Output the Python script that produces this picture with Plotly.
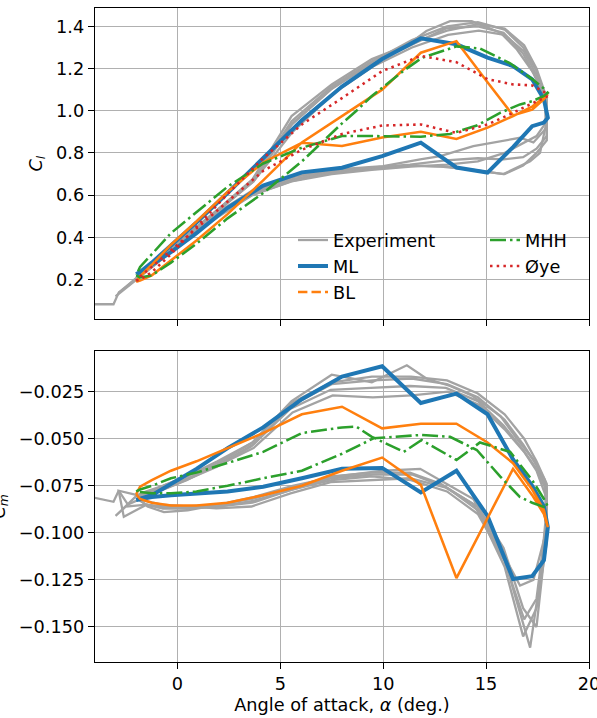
import plotly.graph_objects as go

# ---------------- data ----------------
# model sampling of alpha (deg), up-stroke then down-stroke
ALPHA_MODEL = [-2.0, -1.81, -1.24, -0.31, 0.93, 2.44, 4.17, 6.05, 8.0, 9.95, 11.83, 13.56, 15.07, 16.31, 17.24, 17.81, 18.0,
               17.81, 17.24, 16.31, 15.07, 13.56, 11.83, 9.95, 8.0, 6.05, 4.17, 2.44, 0.93, -0.31, -1.24, -1.81, -2.0]

ML_CL = [0.225, 0.235, 0.28, 0.36, 0.47, 0.61, 0.775, 0.955, 1.115, 1.245, 1.343, 1.315, 1.252, 1.212, 1.149, 1.054, 0.967,
         0.944, 0.927, 0.828, 0.707, 0.731, 0.849, 0.785, 0.73, 0.708, 0.645, 0.54, 0.42, 0.33, 0.27, 0.235, 0.225]
ML_CM = [-0.0825, -0.082, -0.080, -0.074, -0.066, -0.055, -0.044, -0.029, -0.017, -0.0115, -0.031, -0.026, -0.037, -0.061,
         -0.075, -0.086, -0.097, -0.1145, -0.123, -0.1245, -0.091, -0.067, -0.0785, -0.0655, -0.066, -0.071, -0.0755,
         -0.078, -0.079, -0.080, -0.081, -0.082, -0.0825]

BL_CL = [0.19, 0.195, 0.22, 0.29, 0.385, 0.51, 0.67, 0.85, 0.975, 1.10, 1.275, 1.33, 1.135, 0.978, 1.005, 1.055, 1.078,
         1.062, 1.02, 0.975, 0.92, 0.866, 0.90, 0.873, 0.833, 0.848, 0.755, 0.615, 0.475, 0.365, 0.27, 0.215, 0.19]
BL_CM = [-0.0795, -0.0755, -0.072, -0.067, -0.062, -0.055, -0.047, -0.037, -0.033, -0.0445, -0.042, -0.042, -0.052, -0.063,
         -0.077, -0.088, -0.097, -0.090, -0.080, -0.066, -0.092, -0.124, -0.0745, -0.060, -0.067, -0.075, -0.080, -0.084,
         -0.0855, -0.0855, -0.084, -0.082, -0.0795]

OYE_CL = [0.195, 0.20, 0.235, 0.32, 0.45, 0.605, 0.775, 0.935, 1.06, 1.188, 1.26, 1.23, 1.15, 1.125, 1.12, 1.09, 1.07,
          1.06, 1.035, 0.99, 0.935, 0.895, 0.935, 0.93, 0.89, 0.815, 0.715, 0.57, 0.44, 0.34, 0.26, 0.215, 0.195]

ALPHA_MHH = [-2.0, -1.81, -1.24, -0.31, 0.93, 2.44, 4.17, 6.05, 8.0, 8.7, 9.45, 11.0, 11.87, 13.56, 14.7, 16.17, 17.24, 17.81, 18.0,
             17.81, 17.24, 16.65, 15.68, 14.55, 13.25, 11.83, 9.53, 8.0, 6.05, 4.17, 2.44, 0.93, -0.31, -1.24, -1.81, -2.0]
MHH_CL = [0.22, 0.21, 0.22, 0.28, 0.37, 0.49, 0.61, 0.76, 0.94, 1.00, 1.07, 1.19, 1.25, 1.305, 1.295, 1.225, 1.15, 1.105, 1.085,
          1.07, 1.045, 1.03, 0.99, 0.93, 0.89, 0.877, 0.88, 0.88, 0.825, 0.75, 0.64, 0.52, 0.42, 0.32, 0.26, 0.22]
MHH_CM = [-0.078, -0.077, -0.075, -0.071, -0.068, -0.063, -0.057, -0.047, -0.044, -0.0436, -0.049, -0.057, -0.0507, -0.0613,
          -0.052, -0.057, -0.072, -0.082, -0.086, -0.0862, -0.084, -0.081, -0.070, -0.056, -0.049, -0.048, -0.0498, -0.058,
          -0.067, -0.071, -0.075, -0.078, -0.079, -0.079, -0.078, -0.078]

# experiment: several measured cycles
EXP1_ALPHA = [-4.2, -3.1, -2.85, -2.4, -1.6, -0.7, 0.45, 1.95, 3.7, 5.6, 7.5, 9.5, 11.4, 13.1, 14.6, 15.9, 16.8, 17.45, 17.95,
              17.95, 17.45, 16.8, 15.9, 14.6, 13.1, 11.4, 9.5, 7.5, 5.6, 3.7, 1.95, 0.45, -0.7, -1.5, -1.95]
EXP1_CL = [0.083, 0.083, 0.138, 0.17, 0.235, 0.305, 0.405, 0.525, 0.665, 0.94, 1.105, 1.235, 1.335, 1.40, 1.42, 1.385, 1.30,
           1.19, 1.05, 0.86, 0.80, 0.74, 0.70, 0.715, 0.735, 0.74, 0.73, 0.715, 0.685, 0.62, 0.51, 0.40, 0.31, 0.245, 0.21]
EXP1_CM = [-0.081, -0.0835, -0.0776, -0.085, -0.081, -0.077, -0.072, -0.064, -0.053, -0.032, -0.021, -0.019, -0.018, -0.021,
           -0.028, -0.040, -0.053, -0.064, -0.077, -0.105, -0.140, -0.155, -0.118, -0.088, -0.076, -0.069, -0.069, -0.071,
           -0.077, -0.083, -0.086, -0.087, -0.087, -0.085, -0.082]

EXP2_ALPHA = [-1.95, -1.5, -0.7, 0.45, 1.95, 3.65, 5.55, 7.5, 9.45, 11.15, 12.1, 13.25, 14.3, 15.7, 16.5, 17.3, 17.86, 17.9,
              17.62, 17.14, 15.84, 14.4, 12.8, 11.3, 9.45, 7.5, 5.55, 3.65, 1.95, 0.45, -0.7, -1.5, -2.6, -2.85, -1.95]
EXP2_CL = [0.21, 0.245, 0.31, 0.41, 0.53, 0.675, 0.975, 1.125, 1.245, 1.31, 1.378, 1.425, 1.425, 1.37, 1.29, 1.18, 1.054, 0.93,
           0.80, 0.76, 0.70, 0.72, 0.735, 0.74, 0.725, 0.71, 0.675, 0.61, 0.50, 0.39, 0.30, 0.24, 0.16, 0.138, 0.21]
EXP2_CM = [-0.080, -0.079, -0.075, -0.070, -0.062, -0.052, -0.030, -0.016, -0.020, -0.011, -0.018, -0.022, -0.027, -0.038,
           -0.050, -0.061, -0.072, -0.092, -0.125, -0.161, -0.112, -0.085, -0.074, -0.068, -0.068, -0.070, -0.076, -0.082,
           -0.085, -0.086, -0.086, -0.085, -0.0915, -0.0776, -0.080]

EXP3_ALPHA = [-1.95, -1.45, -0.65, 0.5, 2.0, 3.7, 5.6, 7.55, 9.5, 11.4, 13.15, 14.65, 15.9, 16.85, 17.45, 17.95, 17.95, 17.3,
              16.65, 15.5, 14.38, 12.77, 11.8, 10.0, 7.75, 5.6, 3.7, 2.0, 0.5, -0.65, -1.45, -1.95]
EXP3_CL = [0.21, 0.25, 0.315, 0.41, 0.53, 0.665, 0.90, 1.08, 1.21, 1.30, 1.36, 1.38, 1.36, 1.28, 1.17, 1.04, 0.92, 0.85, 0.872,
           0.85, 0.832, 0.785, 0.77, 0.738, 0.722, 0.69, 0.625, 0.52, 0.41, 0.31, 0.245, 0.21]
EXP3_CM = [-0.081, -0.079, -0.076, -0.071, -0.064, -0.055, -0.036, -0.027, -0.028, -0.027, -0.025, -0.032, -0.045, -0.057,
           -0.067, -0.082, -0.098, -0.125, -0.128, -0.105, -0.082, -0.072, -0.066, -0.067, -0.070, -0.075, -0.081, -0.085,
           -0.088, -0.089, -0.086, -0.081]

EXP4_ALPHA = [-1.95, -1.55, -0.75, 0.4, 1.9, 3.6, 5.5, 7.45, 9.4, 11.3, 13.05, 14.6, 15.85, 16.8, 17.45, 17.95, 17.95, 17.45,
              16.8, 15.85, 14.6, 13.05, 11.3, 9.4, 7.45, 5.5, 3.6, 1.9, 0.4, -0.75, -1.55, -1.95]
EXP4_CL = [0.215, 0.245, 0.31, 0.405, 0.525, 0.665, 0.93, 1.10, 1.22, 1.31, 1.39, 1.40, 1.37, 1.27, 1.15, 1.03, 0.88, 0.82, 0.78,
           0.77, 0.775, 0.765, 0.745, 0.73, 0.705, 0.665, 0.60, 0.50, 0.39, 0.30, 0.24, 0.215]
EXP4_CM = [-0.082, -0.080, -0.077, -0.072, -0.065, -0.054, -0.034, -0.024, -0.023, -0.022, -0.023, -0.030, -0.043, -0.056,
           -0.066, -0.078, -0.100, -0.150, -0.140, -0.108, -0.086, -0.076, -0.071, -0.072, -0.073, -0.079, -0.086, -0.087,
           -0.086, -0.085, -0.083, -0.082]

EXP5_ALPHA = [-1.95, -1.5, -0.7, 0.45, 1.95, 3.65, 5.55, 7.5, 9.45, 11.35, 13.1, 14.6, 15.9, 16.85, 17.45, 17.95, 17.95, 17.45,
              16.85, 15.9, 14.6, 13.1, 11.35, 9.45, 7.5, 5.55, 3.65, 1.95, 0.45, -0.7, -1.5, -2.5, -3.0, -1.95]
EXP5_CL = [0.21, 0.245, 0.31, 0.405, 0.525, 0.67, 0.95, 1.115, 1.235, 1.32, 1.38, 1.41, 1.39, 1.31, 1.20, 1.06, 0.95, 0.88, 0.85,
           0.80, 0.76, 0.745, 0.735, 0.72, 0.70, 0.665, 0.60, 0.495, 0.39, 0.30, 0.24, 0.16, 0.12, 0.21]
EXP5_CM = [-0.080, -0.078, -0.075, -0.070, -0.063, -0.052, -0.031, -0.020, -0.017, -0.017, -0.019, -0.026, -0.037, -0.050,
           -0.062, -0.074, -0.092, -0.135, -0.146, -0.115, -0.090, -0.078, -0.072, -0.070, -0.072, -0.077, -0.084, -0.086,
           -0.087, -0.087, -0.085, -0.086, -0.091, -0.080]

EXP_ALPHAS = [EXP1_ALPHA, EXP2_ALPHA, EXP3_ALPHA, EXP4_ALPHA, EXP5_ALPHA]
EXP_CLS = [EXP1_CL, EXP2_CL, EXP3_CL, EXP4_CL, EXP5_CL]
EXP_CMS = [EXP1_CM, EXP2_CM, EXP3_CM, EXP4_CM, EXP5_CM]

X_TICKS = [0, 5, 10, 15, 20]
CL_TICKS = [0.2, 0.4, 0.6, 0.8, 1.0, 1.2, 1.4]
CM_TICKS = [-0.150, -0.125, -0.100, -0.075, -0.050, -0.025]

# ---------------- styles ----------------
FONT = "DejaVu Sans"
FS = 17.7
GRAY = "#a3a3a3"
BLUE = "#1f77b4"
ORANGE = "#ff7f0e"
GREEN = "#2ca02c"
RED = "#d62728"
LW = 2.55
DASH_BL = "9.4px,4.1px"
DASH_MHH = "16px,4px,2.5px,4px"
DOT_OYE = "2.5px,4.2px"

W, H = 597, 718
ML_, MR_, MT_, MB_ = 95, 8, 8, 56
PH = H - MT_ - MB_


def py(px):  # pixel row -> paper y
    return (H - MB_ - px) / PH


def px_(p):  # pixel column -> paper x
    return (p - ML_) / (W - ML_ - MR_)


fig = go.Figure()

# experiment
for i, (a, cl, cm) in enumerate(zip(EXP_ALPHAS, EXP_CLS, EXP_CMS)):
    fig.add_trace(go.Scatter(x=a, y=cl, mode="lines", line=dict(color=GRAY, width=2.3),
                             name="Experiment", showlegend=(i == 0), legend="legend",
                             xaxis="x", yaxis="y"))
    fig.add_trace(go.Scatter(x=a, y=cm, mode="lines", line=dict(color=GRAY, width=2.3),
                             showlegend=False, xaxis="x2", yaxis="y2"))

# ML
fig.add_trace(go.Scatter(x=ALPHA_MODEL, y=ML_CL, mode="lines", line=dict(color=BLUE, width=4),
                         name="ML", legend="legend", xaxis="x", yaxis="y"))
fig.add_trace(go.Scatter(x=ALPHA_MODEL, y=ML_CM, mode="lines", line=dict(color=BLUE, width=4),
                         showlegend=False, xaxis="x2", yaxis="y2"))
# BL (drawn solid, legend entry dashed)
fig.add_trace(go.Scatter(x=ALPHA_MODEL, y=BL_CL, mode="lines", line=dict(color=ORANGE, width=LW),
                         showlegend=False, xaxis="x", yaxis="y"))
fig.add_trace(go.Scatter(x=ALPHA_MODEL, y=BL_CM, mode="lines", line=dict(color=ORANGE, width=LW),
                         showlegend=False, xaxis="x2", yaxis="y2"))
fig.add_trace(go.Scatter(x=[None], y=[None], mode="lines", line=dict(color=ORANGE, width=LW, dash=DASH_BL),
                         name="BL", legend="legend", xaxis="x", yaxis="y"))
# MHH
fig.add_trace(go.Scatter(x=ALPHA_MHH, y=MHH_CL, mode="lines", line=dict(color=GREEN, width=LW, dash=DASH_MHH),
                         name="MHH", legend="legend2", xaxis="x", yaxis="y"))
fig.add_trace(go.Scatter(x=ALPHA_MHH, y=MHH_CM, mode="lines", line=dict(color=GREEN, width=LW, dash=DASH_MHH),
                         showlegend=False, xaxis="x2", yaxis="y2"))
# Øye
fig.add_trace(go.Scatter(x=ALPHA_MODEL, y=OYE_CL, mode="lines", line=dict(color=RED, width=LW, dash=DOT_OYE),
                         name="Øye", legend="legend2", xaxis="x", yaxis="y"))

axis_common = dict(showgrid=True, gridcolor="#b0b0b0", gridwidth=1.3, showline=True, linecolor="black",
                   linewidth=1.4, mirror=True, ticks="outside", ticklen=6, tickwidth=1.4, tickcolor="black",
                   zeroline=False, ticklabeloverflow="allow",
                   tickfont=dict(family=FONT, size=FS, color="black"))

TOP_DOM = [py(319), 1]
BOT_DOM = [0, py(351)]

fig.update_layout(
    width=W, height=H,
    margin=dict(l=ML_, r=MR_, t=MT_, b=MB_, autoexpand=False),
    paper_bgcolor="white", plot_bgcolor="white",
    font=dict(family=FONT, size=FS, color="black"),
    xaxis=dict(axis_common, domain=[0, 1], anchor="y", range=[-4, 20], tickvals=X_TICKS,
               showticklabels=False, matches="x2"),
    yaxis=dict(axis_common, domain=TOP_DOM, anchor="x", range=[0.013, 1.487], tickvals=CL_TICKS,
               tickformat=".1f"),
    xaxis2=dict(axis_common, domain=[0, 1], anchor="y2", range=[-4, 20], tickvals=X_TICKS,
                title=dict(text="Angle of attack, <i>α</i> (deg.)", standoff=5,
                           font=dict(family=FONT, size=FS, color="black"))),
    yaxis2=dict(axis_common, domain=BOT_DOM, anchor="x2", range=[-0.1686, -0.0034], tickvals=CM_TICKS,
                tickformat=".3f"),
    legend=dict(x=px_(293), y=py(222), xanchor="left", yanchor="top", bgcolor="rgba(0,0,0,0)",
                borderwidth=0, font=dict(family=FONT, size=FS, color="black"), tracegroupgap=0),
    legend2=dict(x=px_(485), y=py(222), xanchor="left", yanchor="top", bgcolor="rgba(0,0,0,0)",
                 borderwidth=0, font=dict(family=FONT, size=FS, color="black"), tracegroupgap=0),
    annotations=[
        dict(text="<i>C<sub>l</sub></i>", xref="paper", yref="paper", x=0, y=(TOP_DOM[0] + 1) / 2,
             xshift=-58, textangle=-90, showarrow=False, xanchor="center", yanchor="middle",
             font=dict(family=FONT, size=FS, color="black")),
        dict(text="<i>C<sub>m</sub></i>", xref="paper", yref="paper", x=0, y=BOT_DOM[1] / 2,
             xshift=-95, textangle=-90, showarrow=False, xanchor="center", yanchor="middle",
             font=dict(family=FONT, size=FS, color="black")),
    ],
)

fig.write_html("out.html", config={"displayModeBar": False},
               post_script="document.body.style.margin='0';document.body.style.padding='0';")
